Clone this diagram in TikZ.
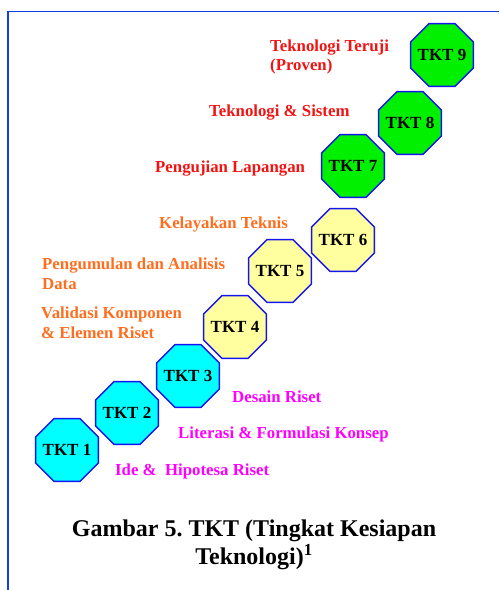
\documentclass[tikz,border=0pt]{standalone}
\usepackage{fontspec}
\setmainfont{Liberation Serif}
\usetikzlibrary{shapes.geometric}
\frenchspacing
\definecolor{framecol}{RGB}{20,60,230}
\definecolor{octcyan}{RGB}{0,255,255}
\definecolor{octyellow}{RGB}{255,255,160}
\definecolor{octgreen}{RGB}{0,240,0}
\definecolor{octline}{RGB}{20,20,240}
\definecolor{lblred}{RGB}{240,20,20}
\definecolor{lblorange}{RGB}{255,110,30}
\definecolor{lblmagenta}{RGB}{255,0,255}
\newcommand{\tktname}[1]{\makebox[0pt]{TKT #1}}
\begin{document}
\begin{tikzpicture}[x=1pt, y=-1pt,
    tkt/.style={regular polygon, regular polygon sides=8, minimum size=68pt, inner sep=0pt,
      draw=octline, line width=1.4pt, font=\fontsize{17}{19}\selectfont\bfseries},
    lbl/.style={anchor=west, align=left, inner sep=0pt, font=\fontsize{16.8}{19.5}\selectfont\bfseries}]
    \useasboundingbox (0,0) rectangle (499,590);
    % frame
    \draw[framecol, line width=1.3pt] (8,590) -- (8,11.5) -- (499,11.5);
    % levels
    \node[tkt, fill=octcyan] (k1) at (67,450) {\tktname{1}};
    \node[tkt, fill=octcyan] (k2) at (127,413) {\tktname{2}};
    \node[tkt, fill=octcyan] (k3) at (188,376) {\tktname{3}};
    \node[tkt, fill=octyellow] (k4) at (235,327) {\tktname{4}};
    \node[tkt, fill=octyellow] (k5) at (280,271) {\tktname{5}};
    \node[tkt, fill=octyellow] (k6) at (343,240) {\tktname{6}};
    \node[tkt, fill=octgreen] (k7) at (353,166) {\tktname{7}};
    \node[tkt, fill=octgreen] (k8) at (410,123) {\tktname{8}};
    \node[tkt, fill=octgreen] (k9) at (442,55) {\tktname{9}};
    % labels
    \node[lbl, lblmagenta] (d1) at (115,471) {Ide \&\ \ Hipotesa Riset};
    \node[lbl, lblmagenta] (d2) at (178,434) {Literasi \& Formulasi Konsep};
    \node[lbl, lblmagenta] (d3) at (232,397) {Desain Riset};
    \node[lbl, lblorange] (d4) at (41,322.5) {Validasi Komponen\\\& Elemen Riset};
    \node[lbl, lblorange] (d5) at (42,273.5) {Pengumulan dan Analisis\\Data};
    \node[lbl, lblorange] (d6) at (159,224) {Kelayakan Teknis};
    \node[lbl, lblred] (d7) at (155,169) {Pengujian Lapangan};
    \node[lbl, lblred] (d8) at (209,113) {Teknologi \& Sistem};
    \node[lbl, lblred] (d9) at (270,57) {Teknologi Teruji\\(Proven)};
    % caption
    \node[align=center, inner sep=0pt, font=\fontsize{24}{28.5}\selectfont\bfseries] (cap) at (254,545)
      {Gambar 5. TKT (Tingkat Kesiapan\\Teknologi)\textsuperscript{1}};
\end{tikzpicture}
\end{document}
